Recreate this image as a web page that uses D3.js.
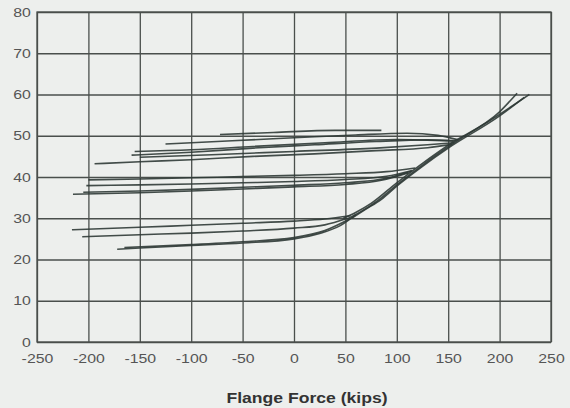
<!DOCTYPE html>
<html>
<head>
<meta charset="utf-8">
<script src="https://cdn.jsdelivr.net/npm/d3@7"></script>
<style>
  body { margin: 0; background: #edefed; }
  svg { display: block; }
</style>
</head>
<body>
<svg id="chart" width="570" height="408"></svg>
<script>
// tick values
const xTicks = [-250, -200, -150, -100, -50, 0, 50, 100, 150, 200, 250];
const yTicks = [0, 10, 20, 30, 40, 50, 60, 70, 80];

// loading branch (several nearly overlapping passes)
const load1 = [[48, 30.0], [60, 31.4], [75, 33.6], [100, 38.6], [125, 43.3], [150, 47.7], [200, 55.8], [217, 60.3]];
const load2 = [[52, 29.9], [65, 31.6], [80, 34.0], [100, 38.1], [125, 42.9], [150, 47.3], [200, 55.2], [229, 60.0]];
const load3 = [[56, 30.0], [70, 32.2], [85, 34.6], [100, 37.8], [125, 42.6], [150, 47.0], [200, 54.8], [224, 59.3]];

// upper group (~43-51)
const upA1 = [[-72, 50.3], [-20, 50.8], [40, 51.3], [85, 51.3]];
const upA2 = [[-125, 48.0], [-60, 48.8], [0, 49.5], [60, 50.2], [110, 50.6], [140, 50.1], [160, 49.0]];
const upA3 = [[-158, 45.3], [-100, 46.0], [-40, 47.0], [20, 47.8], [80, 48.6], [130, 49.0], [158, 48.8]];
const upA4 = [[-155, 46.2], [-100, 46.6], [-40, 47.4], [30, 48.3], [100, 49.1], [155, 48.7]];
const upA5 = [[-150, 44.8], [-80, 45.4], [0, 46.2], [80, 47.0], [130, 47.8], [156, 48.3]];
const upA6 = [[-194, 43.2], [-150, 43.7], [-100, 44.2], [-40, 45.0], [20, 45.6], [80, 46.4], [130, 47.1], [154, 47.9]];

// middle group (~36-42)
const midB1 = [[-200, 39.3], [-150, 39.5], [-100, 39.8], [-50, 40.1], [0, 40.4], [50, 40.8], [90, 41.3], [118, 42.2]];
const midB2 = [[-202, 37.9], [-150, 38.1], [-100, 38.3], [-50, 38.6], [0, 38.9], [50, 39.4], [90, 40.2], [115, 41.6]];
const midB3 = [[-215, 35.8], [-150, 36.2], [-100, 36.6], [-50, 37.1], [0, 37.6], [50, 38.2], [85, 39.2], [111, 41.0]];
const midB4 = [[-205, 36.3], [-150, 36.6], [-100, 37.0], [-50, 37.5], [0, 38.0], [50, 38.6], [90, 39.7], [114, 41.4]];

// lower group (~22-30)
const lowC1 = [[-216, 27.2], [-150, 27.8], [-100, 28.3], [-50, 28.8], [0, 29.3], [30, 29.8], [55, 30.6]];
const lowC2 = [[-206, 25.5], [-150, 26.0], [-100, 26.4], [-50, 26.9], [0, 27.6], [30, 28.4], [52, 30.0]];
const lowC3 = [[-172, 22.5], [-150, 22.8], [-100, 23.4], [-50, 24.0], [0, 25.0], [25, 26.3], [45, 28.2], [60, 30.8]];
const lowC4 = [[-165, 22.9], [-100, 23.6], [-50, 24.3], [0, 25.3], [30, 27.0], [54, 29.8]];

const curves = [load1, load2, load3,
  upA1, upA2, upA3, upA4, upA5, upA6,
  midB1, midB2, midB3, midB4,
  lowC1, lowC2, lowC3, lowC4];

const margin = { top: 12, right: 19, bottom: 66, left: 37 };
const width = 570 - margin.left - margin.right;
const height = 408 - margin.top - margin.bottom;

const svg = d3.select("#chart")
  .append("g")
  .attr("transform", `translate(${margin.left},${margin.top})`);

const x = d3.scaleLinear().domain([-250, 250]).range([0, width]);
const y = d3.scaleLinear().domain([0, 80]).range([height, 0]);

const gridColor = "#4a4f4c";
const labelColor = "#555";

// x axis with vertical gridlines
const xAxis = svg.append("g")
  .attr("transform", `translate(0,${height})`)
  .call(d3.axisBottom(x).tickValues(xTicks).tickFormat(d => String(d))
    .tickSizeInner(-height).tickSizeOuter(0).tickPadding(12));

// y axis with horizontal gridlines
const yAxis = svg.append("g")
  .call(d3.axisLeft(y).tickValues(yTicks).tickFormat(d => String(d))
    .tickSizeInner(-width).tickSizeOuter(0).tickPadding(5));

[xAxis, yAxis].forEach(g => {
  g.select(".domain").remove();
  g.selectAll("line").attr("stroke", gridColor).attr("stroke-width", 1.3);
  g.selectAll("text")
    .attr("fill", labelColor)
    .style("font-family", "'Liberation Sans', Arial, sans-serif")
    .style("font-size", "13px")
    .attr("transform", "scale(1.22,1)");
});

// plot border
svg.append("rect")
  .attr("width", width)
  .attr("height", height)
  .attr("fill", "none")
  .attr("stroke", gridColor)
  .attr("stroke-width", 1.3);

// curves
const line = d3.line()
  .x(d => x(d[0]))
  .y(d => y(d[1]))
  .curve(d3.curveMonotoneX);

svg.selectAll(".curve")
  .data(curves)
  .enter().append("path")
  .attr("class", "curve")
  .attr("d", line)
  .attr("fill", "none")
  .attr("stroke", "#2f3a36")
  .attr("stroke-width", 1.6)
  .attr("stroke-opacity", 0.9);

// axis title
svg.append("text")
  .attr("x", 307 - margin.left)
  .attr("y", 403 - margin.top)
  .attr("text-anchor", "middle")
  .attr("fill", "#333")
  .style("font-family", "'Liberation Sans', Arial, sans-serif")
  .style("font-size", "14px")
  .style("font-weight", "bold")
  .attr("textLength", 161)
  .attr("lengthAdjust", "spacingAndGlyphs")
  .text("Flange Force (kips)");
</script>
</body>
</html>
